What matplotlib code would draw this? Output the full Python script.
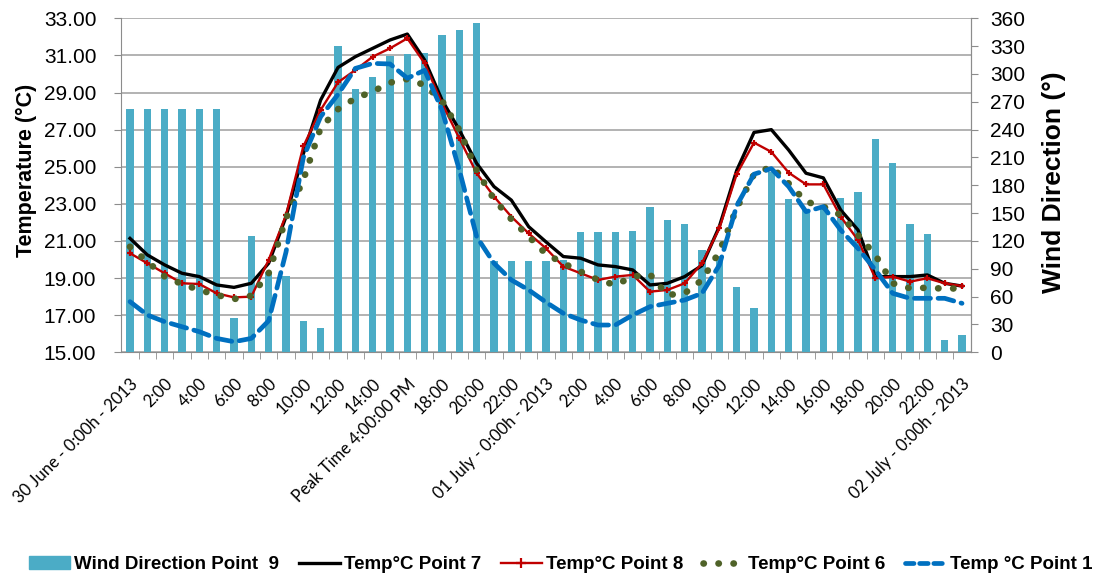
import numpy as np
import matplotlib
matplotlib.use("Agg")
import matplotlib.pyplot as plt
from matplotlib.lines import Line2D
from matplotlib.patches import Patch

plt.rcParams["font.family"] = ["Liberation Sans", "DejaVu Sans"]

# hourly readings, 30 June 0:00 -> 02 July 0:00
wind_p9 = [262, 262, 262, 262, 262, 262, 37, 125, 87, 82, 34, 26,
           330, 284, 297, 319, 321, 323, 342, 347, 355, 98, 98, 98,
           98, 100, 130, 130, 130, 131, 157, 143, 138, 110, 104, 70,
           48, 194, 165, 153, 157, 166, 173, 230, 204, 138, 128, 13, 19]

temp_p7 = [21.14, 20.25, 19.71, 19.26, 19.08, 18.63, 18.5, 18.72, 19.8, 22.3,
           25.7, 28.6, 30.35, 30.93, 31.38, 31.83, 32.15, 30.75, 28.6, 26.98,
           25.18, 23.93, 23.2, 21.77, 20.95, 20.16, 20.07, 19.71, 19.62, 19.44,
           18.63, 18.72, 19.08, 19.68, 21.78, 24.8, 26.85, 27.0, 25.9, 24.65,
           24.4, 22.67, 21.59, 19.08, 19.08, 19.08, 19.17, 18.72, 18.57]

temp_p8 = [20.34, 19.8, 19.26, 18.72, 18.68, 18.18, 17.96, 18.0, 19.98, 22.4,
           26.1, 28.06, 29.55, 30.21, 30.93, 31.38, 31.92, 30.57, 28.42, 26.53,
           24.65, 23.39, 22.31, 21.41, 20.6, 19.62, 19.26, 18.9, 19.08, 19.17,
           18.27, 18.36, 18.72, 19.8, 21.68, 24.6, 26.3, 25.8, 24.68, 24.05,
           24.05, 22.31, 21.05, 18.99, 19.08, 18.81, 18.99, 18.72, 18.57]

temp_p6 = [20.69, 19.89, 19.08, 18.68, 18.36, 18.09, 17.87, 18.05, 19.26, 22.22,
           24.29, 27.1, 28.1, 28.69, 29.05, 29.53, 29.73, 29.4, 28.56, 26.98,
           24.8, 23.25, 22.17, 21.24, 20.3, 19.8, 19.35, 18.9, 18.63, 19.08,
           19.2, 18.09, 18.18, 18.9, 20.42, 22.76, 24.6, 25.0, 24.1, 23.12,
           22.85, 22.4, 21.32, 20.24, 18.72, 18.45, 18.48, 18.43, 18.45]

temp_p1 = [17.73, 17.01, 16.65, 16.38, 16.11, 15.75, 15.57, 15.75, 16.7, 20.4,
           25.5, 27.7, 28.9, 30.3, 30.57, 30.54, 29.77, 30.2, 28.06, 24.83,
           21.23, 19.8, 18.9, 18.36, 17.7, 17.1, 16.74, 16.47, 16.47, 17.01,
           17.46, 17.64, 17.82, 18.18, 19.7, 22.9, 24.6, 24.9, 23.93, 22.58,
           22.85, 21.59, 20.6, 19.44, 18.18, 17.91, 17.91, 17.91, 17.64]

# every second hour is labelled
hour_labels = ["30 June - 0:00h - 2013", "2:00", "4:00", "6:00", "8:00", "10:00",
               "12:00", "14:00", "Peak Time 4:00:00 PM", "18:00", "20:00", "22:00",
               "01 July - 0:00h - 2013", "2:00", "4:00", "6:00", "8:00", "10:00",
               "12:00", "14:00", "16:00", "18:00", "20:00", "22:00",
               "02 July - 0:00h - 2013"]

x = np.arange(len(wind_p9))
grey = "#8c8c8c"

fig = plt.figure(figsize=(11.1, 5.79), dpi=100)
ax = fig.add_axes([0.1093, 0.3915, 0.7652, 0.5769])
ax_w = ax.twinx()
ax_l = ax.twinx()

# temperature axis + grid (bottom layer)
ax.set_xlim(-0.5, len(x) - 0.5)
ax.set_ylim(15, 33)
ax.set_yticks(np.arange(15, 33.1, 2))
ax.set_yticklabels([f"{v:.2f}" for v in np.arange(15, 33.1, 2)])
ax.yaxis.grid(True, color="#a6a6a6", lw=1.2)
ax.set_axisbelow(True)
ax.tick_params(axis="y", length=5, color=grey, labelsize=15, pad=13)
ax.set_xticks(x[::2])
ax.set_xticklabels(hour_labels, rotation=45, ha="right", rotation_mode="anchor",
                   fontsize=12, family="Lato")
ax.set_xticks(x[:-1] + 0.5, minor=True)
ax.tick_params(axis="x", which="major", length=0, pad=17)
ax.tick_params(axis="x", which="minor", length=5, color=grey)
for s in ["left", "bottom", "right"]:
    ax.spines[s].set_color(grey)
ax.spines["top"].set_visible(False)

# wind direction bars on the right axis
ax_w.bar(x, wind_p9, width=0.42, color="#4bacc6", zorder=2)
ax_w.set_ylim(0, 360)
ax_w.set_yticks(np.arange(0, 361, 30))
ax_w.tick_params(axis="y", length=5, color=grey, labelsize=15, pad=9)
ax_w.spines["right"].set_color(grey)
for s in ["left", "top", "bottom"]:
    ax_w.spines[s].set_visible(False)

# temperature lines on top
ax_l.set_ylim(15, 33)
ax_l.set_yticks([])
for s in ax_l.spines.values():
    s.set_visible(False)
ax_l.plot(x, temp_p7, color="black", lw=2.4, solid_joinstyle="round")
ax_l.plot(x, temp_p8, color="#c00000", lw=1.7, marker="+", ms=5, mew=1.6)
ax_l.plot(x, temp_p6, color="#4f6228", lw=4.8, linestyle=(0, (0.05, 2.2)),
          dash_capstyle="round")
ax_l.plot(x, temp_p1, color="#0070c0", lw=3.4, linestyle=(0, (3.4, 1.6)),
          dash_capstyle="round")

fig.text(0.024, 0.705, "Temperature (°C)", rotation=90, fontsize=15.5,
         fontweight="bold", ha="center", va="center")
fig.text(0.950, 0.686, "Wind Direction (°)", rotation=90, fontsize=19,
         fontweight="bold", ha="center", va="center")

handles = [
    Patch(color="#4bacc6"),
    Line2D([], [], color="black", lw=2.4),
    Line2D([], [], color="#c00000", lw=1.7, marker="+", ms=7, mew=1.6),
    Line2D([], [], color="#4f6228", lw=4.8, linestyle=(0, (0.05, 2.2)),
           dash_capstyle="round"),
    Line2D([], [], color="#0070c0", lw=3.4, linestyle=(0, (1.8, 1.2)),
           dash_capstyle="round"),
]
labels = ["Wind Direction Point  9", "Temp°C Point 7", "Temp°C Point 8",
          "Temp°C Point 6", "Temp °C Point 1"]
fig.legend(handles, labels, loc="center", bbox_to_anchor=(0.505, 0.025), ncol=5,
           frameon=False, handlelength=2.2, handletextpad=0.2, columnspacing=1.05,
           prop={"weight": "bold", "size": 13.5})

fig.savefig("out.png", dpi=100)
